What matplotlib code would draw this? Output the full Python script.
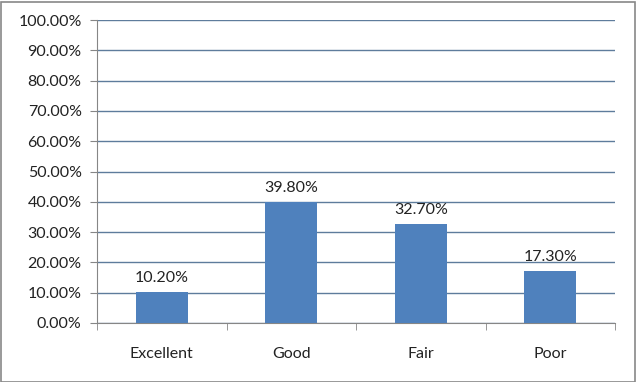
import matplotlib
matplotlib.use("Agg")
import matplotlib.pyplot as plt
from matplotlib.patches import Rectangle

categories = ["Excellent", "Good", "Fair", "Poor"]
values = [10.2, 39.8, 32.7, 17.3]
yticks = [0, 10, 20, 30, 40, 50, 60, 70, 80, 90, 100]

plt.rcParams['font.family'] = ['Lato', 'DejaVu Sans']

W, H = 636, 382
fig = plt.figure(figsize=(W / 100, H / 100), dpi=100)
ax = fig.add_axes([97 / W, 1 - 323 / H, (615 - 97) / W, (323 - 20) / H])

x = list(range(len(categories)))
ax.bar(x, values, width=0.4, color="#4F81BD", zorder=3)
ax.set_xlim(-0.5, len(categories) - 0.5)
ax.set_ylim(0, 100)

fs = 11.5
ax.set_yticks(yticks)
ax.set_yticklabels([f"{v:.2f}%" for v in yticks], fontsize=fs, color="#222222")
ax.yaxis.grid(True, color="#5E7C9C", linewidth=1, zorder=0)
ax.set_xticks(x)
ax.set_xticklabels(categories, fontsize=fs, color="#222222")
ax.tick_params(axis="x", length=0, pad=17)
ax.set_xticks([i + 0.5 for i in range(-1, len(categories))], minor=True)
ax.tick_params(axis="x", which="minor", length=5, color="#868686", direction="out")
ax.tick_params(axis="y", length=5, color="#868686", direction="out", pad=6)

for s in ["top", "right"]:
    ax.spines[s].set_visible(False)
ax.spines["left"].set_color("#868686")
ax.spines["bottom"].set_color("#868686")

for xi, v in zip(x, values):
    ax.annotate(f"{v:.2f}%", (xi, v), xytext=(0, 5), textcoords="offset points",
                ha="center", va="bottom", fontsize=fs, color="#222222")

fig.patches.append(Rectangle((0.5 / W, 0.5 / H), 1 - 2 / W, 1 - 2 / H, transform=fig.transFigure,
                             fill=False, edgecolor="#888888", linewidth=1.2))

fig.savefig("out.png", dpi=100)
